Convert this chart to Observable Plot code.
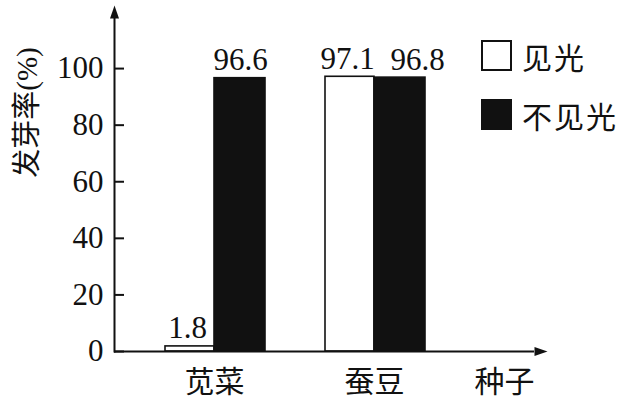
<!DOCTYPE html>
<html><head><meta charset="utf-8">
<script src="https://cdn.jsdelivr.net/npm/d3@7"></script>
<script src="https://cdn.jsdelivr.net/npm/@observablehq/plot@0.6"></script>
<style>
body{margin:0;background:#fff}
#wrap{position:relative;width:628px;height:402px;background:#fff}
.leg{position:absolute;left:481px;display:flex;align-items:center;font-family:'Noto Sans CJK SC',sans-serif;font-size:30px;letter-spacing:2px;color:#111;line-height:1}
.leg .box{width:27px;height:27px;border:2px solid #111;margin-right:10px;box-sizing:content-box}
svg text{letter-spacing:0}
.cjk{letter-spacing:3px}
</style></head><body><div id="wrap"></div>
<script>
const categories = ["苋菜", "蚕豆"];
const series = ["见光", "不见光"];
const seriesFill = ["white", "#111"];
const lightValues = [1.8, 97.1];
const darkValues = [96.6, 96.8];
const yTicks = [0, 20, 40, 60, 80, 100];
const yTitle = "发芽率(%)";
const xTitle = "种子";

const data = categories.flatMap((c, i) => [
  {category: c, series: series[0], value: lightValues[i]},
  {category: c, series: series[1], value: darkValues[i]}
]);
const light = data.filter(d => d.series === series[0]);
const dark = data.filter(d => d.series === series[1]);

const arrowUp = {draw(ctx) { ctx.moveTo(0, -13); ctx.lineTo(4.5, 0); ctx.lineTo(-4.5, 0); ctx.closePath(); }};
const arrowRight = {draw(ctx) { ctx.moveTo(13, 0); ctx.lineTo(0, 4.5); ctx.lineTo(0, -4.5); ctx.closePath(); }};

const fontNum = 31;
const plot = Plot.plot({
  width: 628, height: 402,
  marginLeft: 114, marginRight: 94, marginTop: 18, marginBottom: 51,
  style: {fontFamily: "'Liberation Serif','Noto Sans CJK SC',serif", background: "white", color: "#111", overflow: "visible"},
  x: {domain: categories, range: [163, 425], paddingInner: 0.3625, paddingOuter: 0, label: null},
  y: {domain: [0, 117.7], label: null},
  marks: [
    Plot.barY(light, {x: "category", y: "value", fill: seriesFill[0], stroke: "#111", strokeWidth: 1.6, insetLeft: 2, insetRight: 51}),
    Plot.barY(dark, {x: "category", y: "value", fill: seriesFill[1], stroke: "#111", strokeWidth: 1.6, insetLeft: 51}),
    Plot.text(light, {x: "category", y: "value", text: d => d.value.toFixed(1), dx: -27, dy: -8, lineAnchor: "bottom", fontSize: fontNum}),
    Plot.text(dark.filter(d => d.category === categories[0]), {x: "category", y: "value", text: d => d.value.toFixed(1), dx: 26, dy: -8, lineAnchor: "bottom", fontSize: fontNum}),
    Plot.text(dark.filter(d => d.category === categories[1]), {x: "category", y: "value", text: d => d.value.toFixed(1), dx: 43, dy: -8, lineAnchor: "bottom", fontSize: fontNum}),
    Plot.ruleY([0], {stroke: "#111", strokeWidth: 2}),
    Plot.frame({anchor: "left", stroke: "#111", strokeWidth: 2}),
    Plot.axisY({ticks: yTicks, tickSize: -10, tickPadding: 21, strokeWidth: 2, fontSize: fontNum, tickFormat: d => d, label: null}),
    Plot.axisX({tickSize: 0, tickPadding: 19, fontSize: 30, fontFamily: "'Noto Sans CJK SC',sans-serif", className: "cjk", label: null}),
    Plot.dot([0], {x: null, y: null, frameAnchor: "top-left", symbol: arrowUp, r: 5, fill: "#111", stroke: "none"}),
    Plot.dot([0], {x: null, y: null, frameAnchor: "bottom-right", symbol: arrowRight, r: 5, fill: "#111", stroke: "none"}),
    Plot.text([xTitle], {frameAnchor: "bottom-right", text: d => d, textAnchor: "end", lineAnchor: "top", dy: 19, fontSize: 30, fontFamily: "'Noto Sans CJK SC',sans-serif"}),
    Plot.text([yTitle], {frameAnchor: "top-left", text: d => d, rotate: -90, textAnchor: "middle", lineAnchor: "middle", dx: -87, dy: 94, fontSize: 29})
  ]
});
const wrap = document.getElementById("wrap");
wrap.appendChild(plot);
series.forEach((s, i) => {
  const el = document.createElement("div");
  el.className = "leg";
  el.style.top = (i === 0 ? 40 : 99) + "px";
  el.innerHTML = `<span class="box" style="background:${seriesFill[i]}"></span><span>${s}</span>`;
  wrap.appendChild(el);
});
</script></body></html>
